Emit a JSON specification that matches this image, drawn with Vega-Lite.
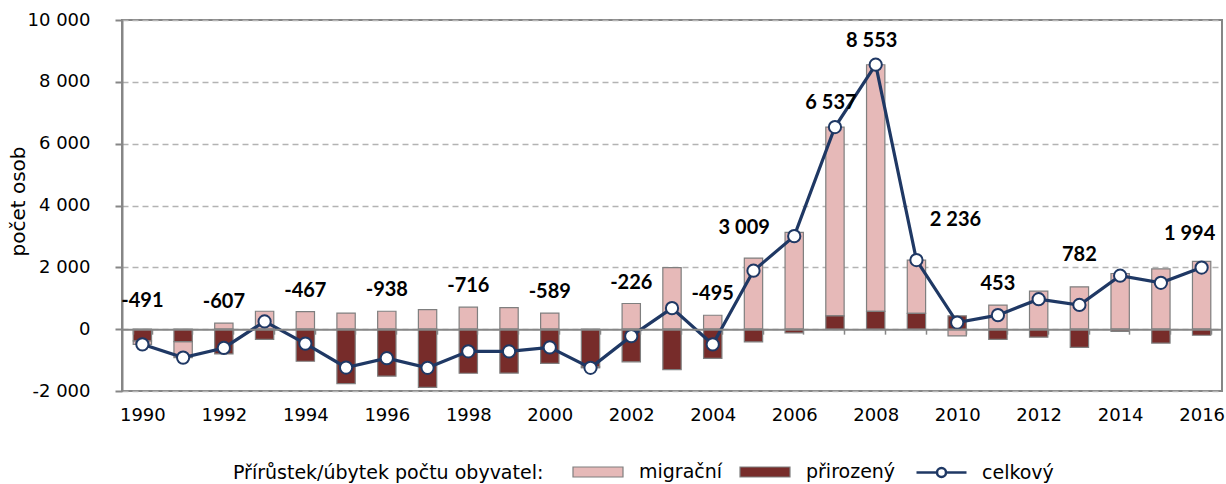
{
  "$schema": "https://vega.github.io/schema/vega-lite/v6.json",
  "width": 1100,
  "height": 371,
  "autosize": {"type": "none"},
  "padding": {"left": 122, "top": 20, "right": 4, "bottom": 93},
  "background": "white",
  "config": {
    "locale": {"number": {"decimal": ",", "thousands": "\u00a0", "grouping": [3], "currency": ["", " Kč"], "minus": "-"}},
    "view": {"stroke": "#868686", "strokeWidth": 2},
    "font": "DejaVu Sans"
  },
  "data": {
    "values": [
      {"rok": 1990, "migracni": -111, "prirozeny": -380, "celkovy": -491},
      {"rok": 1991, "migracni": -520, "prirozeny": -400, "celkovy": -920},
      {"rok": 1992, "migracni": 193, "prirozeny": -800, "celkovy": -607},
      {"rok": 1993, "migracni": 580, "prirozeny": -330, "celkovy": 250},
      {"rok": 1994, "migracni": 570, "prirozeny": -1037, "celkovy": -467},
      {"rok": 1995, "migracni": 520, "prirozeny": -1760, "celkovy": -1240},
      {"rok": 1996, "migracni": 580, "prirozeny": -1518, "celkovy": -938},
      {"rok": 1997, "migracni": 630, "prirozeny": -1880, "celkovy": -1250},
      {"rok": 1998, "migracni": 710, "prirozeny": -1426, "celkovy": -716},
      {"rok": 1999, "migracni": 700, "prirozeny": -1420, "celkovy": -720},
      {"rok": 2000, "migracni": 520, "prirozeny": -1109, "celkovy": -589},
      {"rok": 2001, "migracni": -30, "prirozeny": -1220, "celkovy": -1250},
      {"rok": 2002, "migracni": 830, "prirozeny": -1056, "celkovy": -226},
      {"rok": 2003, "migracni": 1990, "prirozeny": -1310, "celkovy": 680},
      {"rok": 2004, "migracni": 450, "prirozeny": -945, "celkovy": -495},
      {"rok": 2005, "migracni": 2300, "prirozeny": -410, "celkovy": 1890},
      {"rok": 2006, "migracni": 3130, "prirozeny": -121, "celkovy": 3009},
      {"rok": 2007, "migracni": 6107, "prirozeny": 430, "celkovy": 6537},
      {"rok": 2008, "migracni": 7978, "prirozeny": 575, "celkovy": 8553},
      {"rok": 2009, "migracni": 1726, "prirozeny": 510, "celkovy": 2236},
      {"rok": 2010, "migracni": -217, "prirozeny": 430, "celkovy": 213},
      {"rok": 2011, "migracni": 780, "prirozeny": -327, "celkovy": 453},
      {"rok": 2012, "migracni": 1230, "prirozeny": -260, "celkovy": 970},
      {"rok": 2013, "migracni": 1370, "prirozeny": -588, "celkovy": 782},
      {"rok": 2014, "migracni": 1800, "prirozeny": -70, "celkovy": 1730},
      {"rok": 2015, "migracni": 1950, "prirozeny": -450, "celkovy": 1500},
      {"rok": 2016, "migracni": 2190, "prirozeny": -196, "celkovy": 1994}
    ]
  },
  "layer": [
    {
      "transform": [{"fold": ["migracni", "prirozeny"], "as": ["slozka", "hodnota"]}],
      "mark": {"type": "bar", "stroke": "#7F7F7F", "strokeWidth": 1.2},
      "encoding": {
        "x": {
          "field": "rok", "type": "ordinal",
          "scale": {"paddingInner": 0.55, "paddingOuter": 0.275},
          "axis": {
            "title": null, "labelAngle": 0, "offset": -61.83, "zindex": 1,
            "domainColor": "#868686", "domainWidth": 2,
            "tickColor": "#868686", "tickWidth": 1.5, "tickSize": 5, "tickBand": "extent",
            "labelPadding": 72, "labelFont": "DejaVu Sans", "labelFontSize": 18, "labelColor": "#000000",
            "labelOverlap": false, "labelBound": false,
            "labelExpr": "datum.value % 2 == 0 ? datum.label : ''",
            "grid": false
          }
        },
        "y": {
          "field": "hodnota", "type": "quantitative", "stack": "zero",
          "scale": {"domain": [-2000, 10000], "nice": false, "zero": false},
          "axis": {
            "title": "počet osob", "titleFont": "DejaVu Sans", "titleFontSize": 20, "titleFontWeight": "normal", "titleColor": "#000000",
            "titleX": -104, "titleY": 181, "titleBaseline": "middle", "titleAngle": 270,
            "values": [-2000, 0, 2000, 4000, 6000, 8000, 10000], "format": ",d",
            "domainColor": "#868686", "domainWidth": 2,
            "tickColor": "#868686", "tickWidth": 2, "tickSize": 7,
            "labelPadding": 25, "labelFont": "DejaVu Sans", "labelFontSize": 18, "labelColor": "#000000",
            "grid": true, "gridColor": "#B3B3B3", "gridDash": [6, 4], "gridWidth": 1.5
          }
        },
        "fill": {
          "field": "slozka", "type": "nominal",
          "scale": {"domain": ["migracni", "prirozeny"], "range": ["#E6B9B8", "#772C2A"]},
          "legend": {
            "orient": "none", "legendX": 111, "legendY": 426, "direction": "horizontal",
            "title": "Přírůstek/úbytek počtu obyvatel:", "titleOrient": "left", "titleLimit": 500,
            "titleFont": "DejaVu Sans", "titleFontSize": 19, "titleFontWeight": "normal", "titleColor": "#000000",
            "titlePadding": 28, "titleBaseline": "top",
            "labelFont": "DejaVu Sans", "labelFontSize": 19, "labelColor": "#000000",
            "labelOffset": 15, "columnPadding": 14, "symbolSize": 2500,
            "symbolType": "M-1,-0.2H1V0.2H-1Z",
            "symbolStrokeColor": "#7F7F7F", "symbolStrokeWidth": 1.2, "symbolOpacity": 1,
            "labelExpr": "datum.value == 'migracni' ? 'migrační' : 'přirozený'"
          }
        },
        "order": {"field": "slozka", "sort": "descending"}
      }
    },
    {
      "mark": {"type": "line", "strokeWidth": 3.2},
      "encoding": {
        "x": {"field": "rok", "type": "ordinal"},
        "y": {"field": "celkovy", "type": "quantitative", "scale": {"domain": [-2000, 10000], "nice": false, "zero": false}},
        "stroke": {
          "datum": "celkovy", "type": "nominal",
          "scale": {"domain": ["celkovy"], "range": ["#1F3864"]},
          "legend": {
            "orient": "none", "legendX": 793, "legendY": 426, "direction": "horizontal", "title": null,
            "labelFont": "DejaVu Sans", "labelFontSize": 19, "labelColor": "#000000",
            "labelOffset": 14, "symbolSize": 2500,
            "symbolType": "M-1,0H-0.18M0.18,0H1M-0.18,0A0.18,0.18,0,1,0,0.18,0A0.18,0.18,0,1,0,-0.18,0",
            "symbolFillColor": "#ffffff", "symbolStrokeWidth": 2.5, "symbolOpacity": 1,
            "labelExpr": "'celkový'"
          }
        }
      }
    },
    {
      "mark": {"type": "point", "filled": true, "fill": "#ffffff", "stroke": "#1F3864", "strokeWidth": 2, "size": 150, "opacity": 1},
      "encoding": {
        "x": {"field": "rok", "type": "ordinal"},
        "y": {"field": "celkovy", "type": "quantitative", "scale": {"domain": [-2000, 10000], "nice": false, "zero": false}}
      }
    },
    {
      "transform": [{"filter": {"field": "rok", "oneOf": [1992, 1994, 1996, 1998, 2000, 2002, 2004, 2011]}}],
      "mark": {"type": "text", "font": "Lato", "fontWeight": "bold", "fontSize": 20, "color": "#000000", "baseline": "middle", "dy": -21},
      "encoding": {
        "x": {"field": "rok", "type": "ordinal"},
        "y": {"field": "migracni", "type": "quantitative", "scale": {"domain": [-2000, 10000], "nice": false, "zero": false}},
        "text": {"field": "celkovy", "type": "quantitative", "format": ",d"}
      }
    },
    {
      "transform": [{"filter": {"field": "rok", "oneOf": [1990, 2013]}}],
      "mark": {"type": "text", "font": "Lato", "fontWeight": "bold", "fontSize": 20, "color": "#000000", "baseline": "middle", "dy": -32},
      "encoding": {
        "x": {"field": "rok", "type": "ordinal"},
        "y": {"field": "migracni", "type": "quantitative", "scale": {"domain": [-2000, 10000], "nice": false, "zero": false}},
        "text": {"field": "celkovy", "type": "quantitative", "format": ",d"}
      }
    },
    {
      "transform": [{"filter": {"field": "rok", "oneOf": [2016]}}],
      "mark": {"type": "text", "font": "Lato", "fontWeight": "bold", "fontSize": 20, "color": "#000000", "baseline": "middle", "dx": -12, "dy": -27},
      "encoding": {
        "x": {"field": "rok", "type": "ordinal"},
        "y": {"field": "migracni", "type": "quantitative", "scale": {"domain": [-2000, 10000], "nice": false, "zero": false}},
        "text": {"field": "celkovy", "type": "quantitative", "format": ",d"}
      }
    },
    {
      "transform": [{"filter": {"field": "rok", "oneOf": [2006]}}],
      "mark": {"type": "text", "font": "Lato", "fontWeight": "bold", "fontSize": 20, "color": "#000000", "baseline": "middle", "dx": -50, "dy": -8},
      "encoding": {
        "x": {"field": "rok", "type": "ordinal"},
        "y": {"field": "celkovy", "type": "quantitative", "scale": {"domain": [-2000, 10000], "nice": false, "zero": false}},
        "text": {"field": "celkovy", "type": "quantitative", "format": ",d"}
      }
    },
    {
      "transform": [{"filter": {"field": "rok", "oneOf": [2007, 2008]}}],
      "mark": {"type": "text", "font": "Lato", "fontWeight": "bold", "fontSize": 20, "color": "#000000", "baseline": "middle", "dx": -4, "dy": -24},
      "encoding": {
        "x": {"field": "rok", "type": "ordinal"},
        "y": {"field": "celkovy", "type": "quantitative", "scale": {"domain": [-2000, 10000], "nice": false, "zero": false}},
        "text": {"field": "celkovy", "type": "quantitative", "format": ",d"}
      }
    },
    {
      "transform": [{"filter": {"field": "rok", "oneOf": [2009]}}],
      "mark": {"type": "text", "font": "Lato", "fontWeight": "bold", "fontSize": 20, "color": "#000000", "baseline": "middle", "dx": 39, "dy": -40},
      "encoding": {
        "x": {"field": "rok", "type": "ordinal"},
        "y": {"field": "celkovy", "type": "quantitative", "scale": {"domain": [-2000, 10000], "nice": false, "zero": false}},
        "text": {"field": "celkovy", "type": "quantitative", "format": ",d"}
      }
    }
  ]
}
